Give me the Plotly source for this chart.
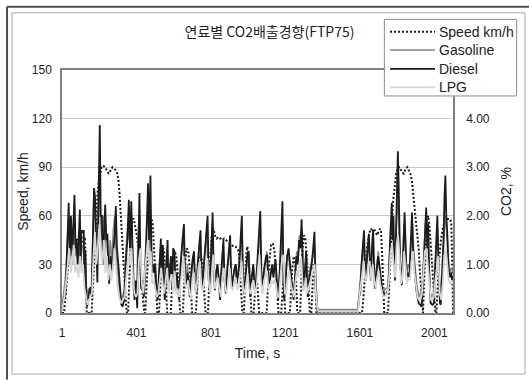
import plotly.graph_objects as go

# ---------------- data ----------------
x_tick_vals = [1, 401, 801, 1201, 1601, 2001]
x_tick_text = ["1", "401", "801", "1201", "1601", "2001"]
speed_ticks = [0, 30, 60, 90, 120, 150]
co2_ticks = [0, 1, 2, 3, 4]
legend_names = ["Speed km/h", "Gasoline", "Diesel", "LPG"]

speed_t = [1, 12, 18, 24, 30, 38, 46, 54, 62, 70,
           78, 86, 94, 102, 110, 118, 124, 128, 131, 134,
           160, 165, 171, 178, 185, 192, 199, 206, 214, 222,
           232, 242, 252, 262, 272, 282, 290, 298, 304, 310,
           316, 322, 328, 334, 340, 346, 350, 356, 361, 367,
           373, 379, 386, 392, 398, 404, 410, 416, 422, 428,
           434, 439, 443, 448, 453, 460, 468, 476, 482, 488,
           494, 500, 506, 510, 513, 522, 528, 536, 544, 550,
           556, 562, 566, 585, 590, 598, 606, 614, 622, 630,
           636, 650, 655, 663, 671, 680, 688, 696, 700, 720,
           726, 734, 742, 750, 758, 766, 772, 785, 790, 798,
           806, 814, 822, 832, 842, 852, 862, 872, 882, 892,
           902, 912, 922, 932, 942, 950, 958, 965, 970, 978,
           983, 990, 996, 1002, 1008, 1014, 1018, 1030, 1035, 1042,
           1050, 1056, 1060, 1100, 1106, 1114, 1124, 1134, 1142, 1150,
           1158, 1164, 1178, 1183, 1190, 1196, 1200, 1225, 1230, 1238,
           1246, 1254, 1260, 1265, 1280, 1285, 1292, 1300, 1308, 1316,
           1322, 1328, 1332, 1340, 1345, 1352, 1358, 1363, 1368, 1595,
           1612, 1617, 1623, 1630, 1637, 1645, 1653, 1661, 1669, 1677,
           1685, 1693, 1701, 1709, 1715, 1720, 1726, 1732, 1752, 1758,
           1764, 1772, 1780, 1788, 1796, 1806, 1816, 1826, 1836, 1846,
           1856, 1864, 1872, 1880, 1890, 1900, 1910, 1917, 1925, 1932,
           1936, 1940, 1946, 1954, 1962, 1968, 1976, 1984, 1992, 2000,
           2006, 2012, 2018, 2026, 2036, 2046, 2056, 2066, 2076, 2086,
           2092, 2096, 2099, 2101]
speed_kmh = [0, 0, 8, 18, 28, 35, 42, 45, 47, 44,
             46, 44, 40, 42, 45, 47, 46, 35, 15, 0,
             0, 12, 30, 48, 62, 74, 82, 87, 90, 91,
             90, 88, 86, 88, 90, 89, 88, 86, 82, 74,
             62, 48, 33, 20, 10, 3, 0, 0, 15, 35,
             52, 58, 58, 55, 52, 47, 40, 32, 25, 16,
             8, 2, 0, 0, 12, 30, 45, 55, 58, 55,
             45, 30, 15, 3, 0, 0, 15, 32, 40, 38,
             25, 10, 0, 0, 12, 30, 38, 36, 25, 10,
             0, 0, 15, 32, 40, 38, 25, 10, 0, 0,
             15, 30, 36, 34, 25, 12, 0, 0, 15, 35,
             48, 52, 48, 46, 47, 46, 45, 46, 45, 44,
             43, 42, 41, 41, 40, 38, 25, 10, 0, 0,
             15, 35, 41, 38, 25, 10, 0, 0, 10, 20,
             18, 8, 0, 0, 15, 32, 42, 43, 38, 25,
             10, 0, 0, 10, 20, 8, 0, 0, 12, 28,
             35, 30, 15, 0, 0, 15, 38, 48, 46, 35,
             20, 5, 0, 0, 15, 30, 28, 15, 0, 0,
             0, 5, 15, 28, 38, 45, 50, 52, 50, 52,
             50, 48, 50, 52, 50, 40, 20, 0, 0, 15,
             35, 55, 70, 80, 86, 90, 90, 87, 86, 89,
             90, 88, 86, 82, 70, 55, 45, 39, 22, 8,
             0, 0, 20, 45, 58, 60, 52, 38, 22, 10,
             0, 0, 15, 32, 45, 52, 56, 58, 58, 58,
             55, 40, 20, 0]

gasoline_t = [1, 12, 22, 30, 38, 44, 52, 58, 66, 72,
              80, 88, 95, 100, 108, 116, 122, 128, 134, 142,
              150, 158, 166, 172, 180, 188, 195, 202, 208, 214,
              222, 230, 236, 244, 252, 260, 268, 276, 284, 292,
              300, 310, 318, 326, 336, 345, 355, 362, 370, 378,
              386, 394, 402, 410, 418, 425, 432, 440, 448, 456,
              463, 470, 478, 484, 492, 500, 508, 516, 523, 530,
              537, 544, 550, 558, 566, 572, 580, 588, 594, 600,
              607, 614, 622, 630, 637, 645, 652, 658, 666, 674,
              682, 690, 697, 704, 712, 719, 727, 735, 742, 748,
              755, 762, 770, 778, 785, 793, 800, 808, 814, 821,
              828, 836, 844, 852, 860, 866, 873, 880, 888, 896,
              903, 910, 916, 924, 932, 939, 946, 954, 962, 968,
              974, 980, 988, 995, 1002, 1009, 1016, 1024, 1032, 1040,
              1048, 1056, 1063, 1070, 1078, 1086, 1094, 1101, 1108, 1116,
              1124, 1132, 1139, 1147, 1155, 1163, 1172, 1180, 1187, 1193,
              1200, 1208, 1216, 1224, 1231, 1238, 1246, 1254, 1262, 1269,
              1276, 1283, 1290, 1296, 1302, 1309, 1315, 1320, 1327, 1334,
              1342, 1350, 1358, 1364, 1370, 1378, 1590, 1597, 1605, 1612,
              1620, 1626, 1634, 1642, 1650, 1657, 1664, 1670, 1676, 1684,
              1692, 1700, 1708, 1716, 1724, 1732, 1740, 1750, 1758, 1766,
              1774, 1780, 1786, 1792, 1798, 1804, 1810, 1816, 1823, 1830,
              1838, 1845, 1852, 1860, 1868, 1876, 1884, 1890, 1897, 1904,
              1912, 1920, 1928, 1936, 1944, 1952, 1960, 1966, 1972, 1980,
              1988, 1996, 2004, 2011, 2018, 2024, 2030, 2036, 2044, 2052,
              2058, 2064, 2070, 2078, 2085, 2092, 2099, 2101]
gasoline_co2 = [0.10, 0.50, 0.83, 1.50, 1.83, 1.17, 1.67, 1.00, 1.93, 1.17,
                1.33, 1.00, 1.67, 0.93, 1.40, 1.33, 0.67, 1.00, 0.27, 0.50,
                0.47, 0.40, 1.50, 2.33, 1.83, 1.00, 2.17, 2.67, 1.83, 1.50,
                2.00, 1.17, 1.83, 1.33, 0.83, 1.50, 1.00, 1.67, 2.00, 1.17,
                0.83, 0.40, 0.27, 0.33, 0.50, 1.33, 1.83, 1.50, 2.00, 1.17,
                0.67, 0.40, 0.50, 1.67, 2.00, 0.83, 0.60, 0.50, 1.33, 1.83,
                2.17, 1.33, 2.00, 0.83, 1.00, 0.73, 0.50, 0.40, 1.00, 1.33,
                0.83, 1.17, 0.50, 0.93, 1.33, 0.60, 1.00, 1.07, 0.47, 1.20,
                1.00, 0.50, 0.67, 0.40, 0.93, 1.40, 1.73, 0.83, 0.67, 1.00,
                0.60, 0.47, 0.93, 1.17, 1.00, 0.50, 0.83, 1.33, 1.60, 0.73,
                0.60, 0.93, 1.27, 1.67, 0.83, 0.50, 1.17, 1.83, 0.93, 0.60,
                0.83, 1.00, 0.73, 0.40, 1.00, 1.40, 0.73, 0.50, 0.93, 1.27,
                1.40, 0.73, 0.60, 0.83, 1.00, 0.67, 0.73, 1.07, 1.40, 1.67,
                0.73, 0.50, 0.83, 1.07, 1.17, 0.60, 0.50, 0.83, 0.93, 0.53,
                0.73, 1.33, 1.83, 0.83, 0.60, 0.93, 1.07, 1.27, 0.67, 0.73,
                0.93, 0.83, 1.00, 0.93, 0.53, 0.40, 1.00, 1.60, 1.83, 0.60,
                0.50, 1.07, 1.27, 0.93, 0.60, 0.60, 0.40, 0.83, 1.27, 1.07,
                1.60, 1.50, 1.73, 0.83, 0.60, 1.00, 1.17, 0.50, 0.73, 0.93,
                1.07, 1.17, 1.40, 0.60, 0.17, 0.07, 0.07, 0.40, 0.73, 1.17,
                1.50, 1.00, 0.93, 1.33, 1.50, 0.83, 1.27, 1.60, 0.93, 0.73,
                1.00, 1.27, 0.83, 0.67, 0.50, 0.47, 0.50, 0.53, 1.00, 1.83,
                2.00, 1.50, 0.93, 1.33, 2.17, 2.50, 1.83, 1.17, 0.73, 1.00,
                1.83, 1.50, 0.83, 1.00, 0.93, 1.50, 1.83, 1.27, 0.93, 0.67,
                0.47, 0.33, 0.40, 0.60, 1.17, 1.83, 1.93, 1.50, 1.00, 0.40,
                0.33, 0.40, 0.93, 1.33, 1.73, 1.00, 0.50, 0.33, 0.83, 1.67,
                2.00, 1.83, 1.33, 1.00, 0.83, 0.93, 0.87, 0.83]

diesel_t = [1, 10, 20, 28, 37, 43, 49, 56, 62, 68,
            74, 78, 85, 92, 97, 101, 105, 112, 118, 121,
            126, 131, 136, 145, 153, 160, 167, 173, 178, 184,
            191, 197, 204, 209, 215, 220, 228, 233, 239, 245,
            250, 254, 262, 270, 278, 285, 290, 296, 305, 314,
            320, 327, 335, 343, 352, 360, 366, 373, 378, 382,
            386, 391, 398, 405, 411, 417, 422, 426, 433, 441,
            450, 458, 463, 469, 476, 481, 485, 490, 496, 502,
            509, 515, 520, 526, 532, 537, 543, 548, 553, 560,
            568, 573, 580, 586, 592, 598, 605, 611, 617, 623,
            630, 638, 644, 650, 656, 662, 669, 675, 681, 687,
            694, 700, 705, 710, 716, 723, 730, 738, 745, 750,
            756, 763, 770, 776, 783, 789, 796, 803, 810, 815,
            822, 829, 836, 843, 850, 856, 862, 868, 874, 881,
            888, 896, 904, 909, 913, 920, 928, 935, 940, 947,
            953, 960, 967, 972, 978, 985, 992, 997, 1003, 1008,
            1012, 1020, 1028, 1036, 1044, 1052, 1060, 1066, 1072, 1079,
            1085, 1092, 1097, 1103, 1109, 1115, 1122, 1130, 1136, 1142,
            1148, 1155, 1162, 1170, 1177, 1185, 1190, 1195, 1202, 1210,
            1218, 1225, 1232, 1238, 1245, 1252, 1260, 1267, 1274, 1281,
            1288, 1294, 1299, 1305, 1312, 1317, 1321, 1328, 1335, 1342,
            1350, 1357, 1362, 1366, 1372, 1380, 1590, 1596, 1603, 1610,
            1617, 1623, 1628, 1632, 1640, 1649, 1655, 1660, 1666, 1672,
            1677, 1681, 1690, 1699, 1705, 1714, 1720, 1727, 1735, 1745,
            1754, 1762, 1772, 1777, 1781, 1786, 1790, 1795, 1799, 1805,
            1809, 1813, 1817, 1822, 1826, 1833, 1841, 1847, 1853, 1860,
            1866, 1873, 1881, 1886, 1892, 1897, 1903, 1910, 1917, 1925,
            1932, 1940, 1948, 1957, 1963, 1968, 1973, 1981, 1990, 1999,
            2006, 2012, 2017, 2022, 2026, 2031, 2035, 2042, 2050, 2055,
            2060, 2065, 2070, 2077, 2083, 2090, 2097, 2101]
diesel_co2 = [0.07, 0.27, 0.40, 1.17, 2.27, 1.00, 2.00, 1.17, 1.83, 2.43,
              1.33, 1.50, 1.00, 1.83, 2.13, 1.00, 1.70, 1.67, 1.70, 0.67,
              1.30, 0.33, 0.13, 0.40, 0.53, 0.33, 1.33, 2.57, 2.40, 1.33,
              0.63, 2.33, 3.87, 2.00, 2.00, 1.00, 1.83, 2.23, 1.50, 1.63,
              1.00, 0.60, 1.17, 0.83, 1.33, 1.67, 2.20, 1.33, 0.93, 0.33,
              0.17, 0.13, 0.27, 1.00, 1.50, 2.33, 1.33, 2.30, 1.50, 1.00,
              0.50, 0.27, 0.67, 0.10, 1.33, 2.47, 1.00, 0.50, 0.67, 0.33,
              1.00, 2.00, 2.67, 1.50, 2.83, 1.33, 0.83, 1.00, 0.83, 1.00,
              0.40, 0.27, 0.67, 1.17, 1.53, 0.67, 1.40, 0.67, 0.27, 0.83,
              1.50, 0.50, 1.00, 1.17, 0.50, 1.33, 1.27, 0.50, 0.83, 0.60,
              0.27, 1.00, 1.33, 1.67, 1.83, 0.67, 0.50, 0.83, 0.67, 0.33,
              0.83, 1.00, 1.17, 1.27, 0.50, 0.40, 1.00, 1.50, 1.70, 0.83,
              0.50, 1.00, 1.33, 1.50, 2.00, 0.67, 0.40, 1.33, 2.07, 1.00,
              0.47, 0.83, 1.00, 0.67, 0.27, 0.83, 1.33, 1.50, 0.67, 0.40,
              0.83, 1.33, 1.60, 0.83, 0.53, 0.73, 0.93, 1.00, 0.60, 0.83,
              1.00, 1.50, 2.00, 0.83, 0.40, 0.67, 1.00, 1.20, 1.27, 0.67,
              0.33, 0.73, 1.00, 0.47, 0.67, 1.17, 1.67, 2.10, 0.83, 0.47,
              0.83, 1.00, 1.17, 1.20, 0.67, 0.60, 0.83, 1.00, 0.73, 0.93,
              1.10, 0.67, 0.27, 0.83, 1.50, 2.30, 0.67, 0.27, 0.67, 1.17,
              1.33, 1.00, 0.67, 0.50, 0.27, 0.67, 1.17, 1.00, 1.50, 1.33,
              1.93, 1.00, 0.47, 0.83, 1.27, 0.67, 0.33, 0.67, 0.83, 1.00,
              1.33, 1.67, 0.67, 0.27, 0.07, 0.03, 0.03, 0.33, 0.40, 1.00,
              1.33, 1.70, 1.00, 0.67, 1.17, 1.63, 1.00, 0.67, 1.33, 1.70,
              1.00, 0.50, 0.83, 1.17, 1.00, 0.60, 0.50, 0.33, 0.40, 0.40,
              0.50, 1.33, 2.27, 1.50, 2.00, 1.00, 0.67, 1.67, 2.60, 3.33,
              2.67, 1.33, 1.00, 0.83, 0.57, 1.17, 2.07, 1.33, 0.67, 0.83,
              0.73, 1.33, 2.07, 1.33, 1.00, 0.83, 0.50, 0.33, 0.20, 0.17,
              0.13, 0.67, 1.50, 2.17, 1.33, 1.83, 0.83, 0.20, 0.17, 0.20,
              1.00, 1.50, 2.00, 1.17, 0.50, 0.20, 0.17, 0.67, 1.50, 2.33,
              2.83, 2.00, 1.67, 0.93, 0.73, 0.83, 0.67, 0.73]

lpg_t = [1, 14, 24, 32, 40, 48, 56, 64, 72, 80,
         90, 98, 106, 114, 122, 130, 138, 146, 154, 162,
         170, 178, 186, 194, 202, 210, 218, 226, 234, 242,
         250, 258, 266, 274, 282, 290, 298, 308, 318, 328,
         338, 348, 358, 366, 374, 382, 390, 398, 406, 414,
         422, 430, 438, 446, 454, 462, 470, 478, 486, 494,
         502, 510, 518, 526, 534, 542, 550, 558, 566, 574,
         582, 590, 598, 606, 614, 622, 630, 638, 646, 654,
         662, 670, 678, 686, 694, 702, 710, 718, 726, 734,
         742, 750, 758, 766, 774, 782, 790, 798, 806, 814,
         822, 830, 838, 846, 854, 862, 870, 878, 886, 894,
         902, 910, 918, 926, 934, 942, 950, 958, 966, 974,
         982, 990, 998, 1006, 1014, 1022, 1030, 1038, 1046, 1054,
         1062, 1070, 1078, 1086, 1094, 1102, 1110, 1118, 1126, 1134,
         1142, 1150, 1158, 1166, 1174, 1182, 1190, 1198, 1206, 1214,
         1222, 1230, 1238, 1246, 1254, 1262, 1270, 1278, 1286, 1294,
         1302, 1310, 1318, 1326, 1334, 1342, 1350, 1358, 1365, 1372,
         1380, 1590, 1598, 1606, 1614, 1622, 1630, 1638, 1646, 1654,
         1662, 1670, 1678, 1686, 1694, 1702, 1710, 1718, 1726, 1734,
         1742, 1750, 1758, 1766, 1774, 1782, 1790, 1798, 1806, 1814,
         1822, 1830, 1838, 1846, 1854, 1862, 1870, 1878, 1886, 1894,
         1902, 1910, 1918, 1926, 1934, 1942, 1950, 1958, 1966, 1974,
         1982, 1990, 1998, 2006, 2014, 2022, 2030, 2038, 2046, 2054,
         2062, 2070, 2078, 2086, 2094, 2101]
lpg_co2 = [0.07, 0.33, 0.67, 1.00, 1.33, 0.83, 1.17, 1.40, 0.83, 1.00,
           0.73, 1.17, 0.83, 1.00, 0.50, 0.33, 0.17, 0.27, 0.33, 0.40,
           1.17, 1.67, 1.00, 1.50, 1.83, 1.33, 1.00, 1.50, 0.83, 1.17,
           0.67, 1.00, 0.67, 0.93, 1.33, 1.00, 0.60, 0.33, 0.20, 0.27,
           0.33, 0.83, 1.17, 1.00, 1.33, 0.73, 0.40, 0.33, 0.40, 1.07,
           1.33, 0.60, 0.40, 0.83, 1.17, 1.50, 1.00, 1.27, 0.60, 0.67,
           0.50, 0.33, 0.40, 0.73, 0.93, 0.60, 0.40, 0.67, 0.93, 0.40,
           0.67, 0.80, 0.40, 0.87, 0.40, 0.50, 0.33, 0.60, 0.93, 1.17,
           0.60, 0.50, 0.67, 0.40, 0.33, 0.73, 0.83, 0.40, 0.60, 0.93,
           1.07, 0.53, 0.47, 0.67, 0.87, 1.13, 0.60, 0.40, 0.80, 1.20,
           0.50, 0.60, 0.73, 0.50, 0.33, 0.73, 0.93, 0.50, 0.40, 0.67,
           0.93, 0.53, 0.47, 0.60, 0.73, 0.47, 0.53, 0.80, 1.07, 0.50,
           0.40, 0.60, 0.80, 0.47, 0.40, 0.60, 0.67, 0.40, 0.53, 0.93,
           1.20, 0.60, 0.40, 0.67, 0.80, 0.87, 0.47, 0.53, 0.67, 0.60,
           0.67, 0.60, 0.33, 0.33, 0.73, 1.07, 1.20, 0.40, 0.40, 0.80,
           0.87, 0.60, 0.47, 0.33, 0.60, 0.87, 0.73, 1.07, 1.13, 0.53,
           0.47, 0.73, 0.40, 0.53, 0.67, 0.80, 0.87, 1.00, 0.40, 0.10,
           0.03, 0.03, 0.33, 0.60, 0.93, 1.07, 0.67, 0.73, 1.00, 1.07,
           0.67, 1.00, 0.67, 0.50, 0.73, 0.87, 0.60, 0.47, 0.33, 0.33,
           0.40, 0.40, 0.73, 1.27, 1.40, 1.00, 0.73, 1.40, 1.60, 1.17,
           0.60, 0.73, 1.27, 1.00, 0.60, 0.73, 0.67, 1.07, 1.27, 0.83,
           0.60, 0.33, 0.27, 0.27, 0.40, 0.83, 1.27, 1.33, 1.00, 0.67,
           0.27, 0.27, 0.33, 0.67, 0.93, 1.17, 0.40, 0.27, 0.60, 1.17,
           1.33, 0.93, 0.67, 0.60, 0.67, 0.60]

# ---------------- layout geometry (pixels) ----------------
W, H = 529, 380
PL, PR, PT, PB = 61.7, 453.0, 70.0, 313.3


def px(x):
    return (x - PL) / (PR - PL)


def py(y):
    return (PB - y) / (PB - PT)


TICK_FONT = dict(family="Liberation Sans, Arial, sans-serif", size=12, color="#222222")
TITLE_FONT = dict(family="Liberation Sans, Arial, sans-serif", size=14, color="#222222")
LEG_FONT = dict(family="Liberation Sans, Arial, sans-serif", size=14, color="#222222")

styles = {
    "Speed km/h": dict(color="#1a1a1a", width=2, dash="2px,2px"),
    "Gasoline": dict(color="#848484", width=1.5),
    "Diesel": dict(color="#1c1c1c", width=1.8),
    "LPG": dict(color="#d6d6d6", width=1.8),
}

fig = go.Figure()
fig.add_trace(go.Scatter(x=speed_t, y=speed_kmh, name="Speed km/h", mode="lines",
                         line=styles["Speed km/h"], showlegend=False))
fig.add_trace(go.Scatter(x=gasoline_t, y=gasoline_co2, name="Gasoline", yaxis="y2", mode="lines",
                         line=styles["Gasoline"], showlegend=False))
fig.add_trace(go.Scatter(x=diesel_t, y=diesel_co2, name="Diesel", yaxis="y2", mode="lines",
                         line=styles["Diesel"], showlegend=False))
fig.add_trace(go.Scatter(x=lpg_t, y=lpg_co2, name="LPG", yaxis="y2", mode="lines",
                         line=styles["LPG"], showlegend=False))

shapes = [
    # outer dark frame (top and left)
    dict(type="line", xref="paper", yref="paper", x0=px(6.7), x1=px(529), y0=py(6.7), y1=py(6.7),
         line=dict(color="#4a4a4a", width=2), layer="below"),
    dict(type="line", xref="paper", yref="paper", x0=px(6.7), x1=px(6.7), y0=py(6.7), y1=py(380),
         line=dict(color="#4a4a4a", width=2), layer="below"),
    # inner light frame
    dict(type="rect", xref="paper", yref="paper", x0=px(11.7), x1=px(525), y0=py(12.7), y1=py(374.3),
         line=dict(color="#c4c4c4", width=1.5), fillcolor="rgba(0,0,0,0)", layer="below"),
    # legend box
    dict(type="rect", xref="paper", yref="paper", x0=px(384.3), x1=px(516.7), y0=py(19.3), y1=py(96),
         line=dict(color="#8a8a8a", width=1), fillcolor="white", layer="above"),
]
annotations = []
legend_rows_y = [31.7, 50.0, 68.8, 87.3]
for name, ly in zip(legend_names, legend_rows_y):
    shapes.append(dict(type="line", xref="paper", yref="paper", x0=px(390), x1=px(435),
                       y0=py(ly), y1=py(ly), line=styles[name], layer="above"))
    annotations.append(dict(text=name, xref="paper", yref="paper", x=px(436.5), y=py(ly),
                            xanchor="left", yanchor="middle", showarrow=False, font=LEG_FONT))

fig.update_layout(
    width=W, height=H,
    margin=dict(l=PL, r=W - PR, t=PT, b=H - PB, pad=0),
    paper_bgcolor="white", plot_bgcolor="white",
    showlegend=False,
    hovermode=False,
    shapes=shapes,
    annotations=annotations,
    title=dict(text="연료별 CO2배출경향(FTP75)", x=269.5 / W, xref="container", xanchor="center",
               y=1 - 32 / H, yref="container", yanchor="middle",
               font=dict(family="Noto Sans CJK KR, sans-serif", size=14, color="#222222")),
    xaxis=dict(range=[1, 2101], tickmode="array", tickvals=x_tick_vals, ticktext=x_tick_text,
               showgrid=False, zeroline=False, showline=True, mirror=True,
               linecolor="#808080", linewidth=1.5,
               ticks="outside", ticklen=8, tickcolor="rgba(0,0,0,0)",
               tickfont=TICK_FONT,
               title=dict(text="Time, s", font=TITLE_FONT, standoff=9)),
    yaxis=dict(range=[0, 150], tickmode="array", tickvals=speed_ticks,
               showgrid=True, gridcolor="#c8c8c8", gridwidth=1, zeroline=False,
               showline=True, linecolor="#808080", linewidth=1.5,
               ticks="outside", ticklen=6, tickcolor="rgba(0,0,0,0)",
               tickfont=TICK_FONT,
               title=dict(text="Speed, km/h", font=TITLE_FONT, standoff=0)),
    yaxis2=dict(range=[0, 5], overlaying="y", side="right", tickmode="array", tickvals=co2_ticks,
                tickformat=".2f", showgrid=False, zeroline=False,
                showline=True, linecolor="#808080", linewidth=1.5,
                ticks="outside", ticklen=9, tickcolor="rgba(0,0,0,0)",
                tickfont=TICK_FONT,
                title=dict(text="CO2, %", font=TITLE_FONT, standoff=12)),
)

fig.write_html("out.html")
